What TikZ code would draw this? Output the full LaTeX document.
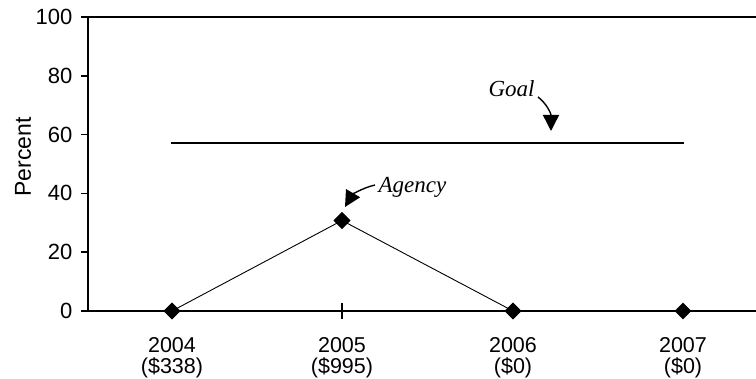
\documentclass[tikz,border=0pt]{standalone}
\usepackage{fontspec}
\setmainfont{Liberation Sans}
\newfontfamily\lblserif{Liberation Serif}
\usetikzlibrary{arrows.meta,shapes.geometric}
\begin{document}
\begin{tikzpicture}[x=1pt,y=-1pt,
  axisline/.style={line width=2.4pt},
  tickmark/.style={line width=1.6pt},
  ticklabel/.style={anchor=east,inner sep=0pt,font=\fontsize{22}{22}\selectfont},
  yearlabel/.style={align=center,inner sep=0pt,font=\fontsize{21.5}{21}\selectfont},
  datapt/.style={diamond,fill=black,inner sep=0pt,minimum width=17pt,minimum height=17pt},
  dataline/.style={line width=0.9pt},
  goalline/.style={line width=2pt},
  annot/.style={inner sep=0pt,font=\lblserif\itshape\fontsize{23}{26}\selectfont},
  callout/.style={line width=1.4pt,-{Triangle[length=16pt,width=16pt]}}
]
\useasboundingbox (0,0) rectangle (756,379);
% frame
\draw[axisline] (88,17) -- (756,17);
\draw[axisline] (88,16) -- (88,311) -- (756,311);
% y ticks
\foreach \v in {0,20,40,60,80,100} {
  \pgfmathsetmacro{\yy}{311-2.94*\v}
  \draw[tickmark] (81,\yy) -- (88,\yy);
  \node[ticklabel] (yl\v) at (72.5,\yy) {\v};
}
\node[rotate=90,inner sep=0pt,font=\fontsize{23}{24}\selectfont] (ylab) at (23,157) {Percent};
% x tick
\draw[line width=1.2pt] (342,303) -- (342,319);
% year labels
\node[yearlabel] (x1) at (172,358) {2004\\(\$338)};
\node[yearlabel] (x2) at (342,358) {2005\\(\$995)};
\node[yearlabel] (x3) at (513,358) {2006\\(\$0)};
\node[yearlabel] (x4) at (683,358) {2007\\(\$0)};
% goal line
\coordinate (g1) at (171,143.5);
\coordinate (g2) at (684,143.5);
\draw[goalline] (g1) -- (g2);
% data
\node[datapt] (d1) at (172,311) {};
\node[datapt] (d2) at (342,220.5) {};
\node[datapt] (d3) at (513,311) {};
\node[datapt] (d4) at (683,311) {};
\draw[dataline] (d1.center) -- (d2.center) -- (d3.center);
\node[datapt] at (172,311) {};
\node[datapt] at (342,220.5) {};
\node[datapt] at (513,311) {};
% annotations
\node[annot] (goal) at (511.5,89) {Goal};
\coordinate (ga) at (538,97);
\coordinate (gt) at (551,131);
\draw[callout] (ga) .. controls (546,103) and (551,113) .. (gt);
\node[annot] (agency) at (412.5,187) {Agency};
\coordinate (aa) at (375,185);
\coordinate (at0) at (345,207);
\draw[callout] (aa) .. controls (362,188) and (352,195) .. (at0);
\end{tikzpicture}
\end{document}
